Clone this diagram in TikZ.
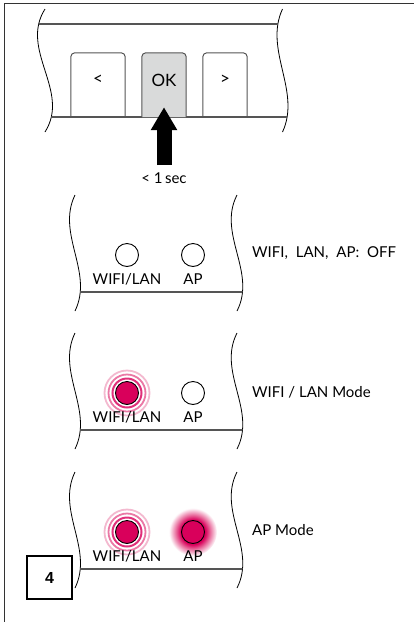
\documentclass[tikz,border=0pt]{standalone}
\usepackage{fontspec}
\setmainfont{Lato}
\newfontfamily\numfont{Liberation Sans}
\usetikzlibrary{arrows.meta,positioning,calc,backgrounds}
\definecolor{LedPink}{HTML}{D9005B}
\definecolor{LedGlow}{HTML}{E9709F}
\definecolor{KeyGrey}{HTML}{D9DADA}
\definecolor{LineGrey}{HTML}{555555}
\definecolor{RingA}{HTML}{E0307A}
\definecolor{RingB}{HTML}{EA78A5}
\definecolor{RingC}{HTML}{F3B9CF}
\pgfdeclareradialshading{apglow}{\pgfpoint{0bp}{0bp}}{color(0bp)=(LedPink); color(13bp)=(LedPink); color(18bp)=(LedGlow); color(25bp)=(white); color(50bp)=(white)}

\begin{document}
\begin{tikzpicture}[x=1pt,y=-1pt,
    every node/.style={font=\fontsize{15}{18}\selectfont},
    wave/.style={black,line width=0.8pt},
    panelline/.style={LineGrey,line width=1.2pt},
    frameline/.style={black!80,line width=1pt},
    keybox/.style={minimum width=#1,minimum height=64pt,inner sep=0pt},
    keyedge/.style={LineGrey,line width=1pt,rounded corners=4pt},
    keytext/.style={font=\fontsize{17}{20}\selectfont},
    led/.style={circle,draw=black,line width=0.9pt,minimum size=23pt,inner sep=0pt},
    ledlabel/.style={inner sep=0pt},
    statetext/.style={anchor=west,inner sep=0pt},
    numbox/.style={draw=black,line width=1.3pt,minimum width=45pt,minimum height=43pt,
                   inner sep=0pt,font=\numfont\fontsize{16}{18}\selectfont\bfseries},
    pusharrow/.style={black,line width=15pt,-{Triangle[length=23pt,width=25pt]}}
  ]
  \useasboundingbox (0,0) rectangle (414,622);
  \draw[frameline] (4,622) -- (4,3) -- (414,3);

  % keypad
  \draw[wave] (45,9) .. controls (19,50) and (71,91) .. (45,132);
  \draw[wave] (282.5,9) .. controls (263.5,50) and (301.5,91) .. (282.5,132);
  \begin{scope}
    \clip (45,9) .. controls (19,50) and (71,91) .. (45,132) -- (282.5,132)
      .. controls (301.5,91) and (263.5,50) .. (282.5,9) -- cycle;
    \draw[panelline] (0,24) -- (414,24);
    \draw[panelline] (0,117) -- (414,117);
  \end{scope}
  \node[keybox=54pt] (prev) at (98,85) {};
  \node[keybox=44pt] (ok) at (164,85) {};
  \node[keybox=44pt] (next) at (225,85) {};
  \draw[keyedge] (prev.south west) |- (prev.north) -| (prev.south east);
  \filldraw[keyedge,fill=KeyGrey] (ok.south west) |- (ok.north) -| (ok.south east);
  \draw[keyedge] (next.south west) |- (next.north) -| (next.south east);
  \node[keytext] at ([yshift=5pt]prev.center) {<};
  \node[keytext] at ([yshift=5pt]ok.center) {OK};
  \node[keytext] at ([yshift=5pt]next.center) {>};
  \node (sec) at (164,178) {< 1\,sec};
  \draw[pusharrow,shorten <=4pt] (sec.north) -- ([yshift=10pt]ok.south);

  % LED panels
  \foreach \ly/\wf/\af [count=\i] in {292/white/white,430/LedPink/white,569/LedPink/LedPink}{
    \draw[wave] (75,{\ly-97}) .. controls (56,{\ly-58}) and (94,{\ly-20}) .. (75,{\ly+19});
    \draw[wave] (237,{\ly-97}) .. controls (217,{\ly-58}) and (257,{\ly-20}) .. (237,{\ly+19});
    \begin{scope}
      \clip (75,{\ly-97}) .. controls (56,{\ly-58}) and (94,{\ly-20}) .. (75,{\ly+19})
        -- (237,{\ly+19}) .. controls (257,{\ly-20}) and (217,{\ly-58}) .. (237,{\ly-97}) -- cycle;
      \draw[panelline] (0,\ly) -- (414,\ly);
    \end{scope}
    \node[led,fill=\wf] (wifi\i) at (127,{\ly-37}) {};
    \node[led,fill=\af] (ap\i) at (193,{\ly-37}) {};
    \node[ledlabel] (wifilab\i) at (127,{\ly-12.5}) {WIFI/LAN};
    \node[ledlabel] (aplab\i) at (193,{\ly-12.5}) {AP};
  }
  \begin{scope}[on background layer]
    \foreach \n in {2,3}{
      \draw[RingA,line width=2pt] (wifi\n) circle (14.5pt);
      \draw[RingB,line width=1.8pt] (wifi\n) circle (18.5pt);
      \draw[RingC,line width=1.8pt] (wifi\n) circle (22.5pt);
    }
    \shade[shading=apglow] (ap3) circle (24pt);
  \end{scope}
  \node[statetext] (state1) at (252,253) {WIFI,\hspace{4pt} LAN,\hspace{4pt} AP:\hspace{4pt} OFF};
  \node[statetext] (state2) at (252,392) {WIFI / LAN Mode};
  \node[statetext] (state3) at (252,530) {AP Mode};

  \node[numbox] (stepnum) at (49.5,577.5) {4};
\end{tikzpicture}
\end{document}
